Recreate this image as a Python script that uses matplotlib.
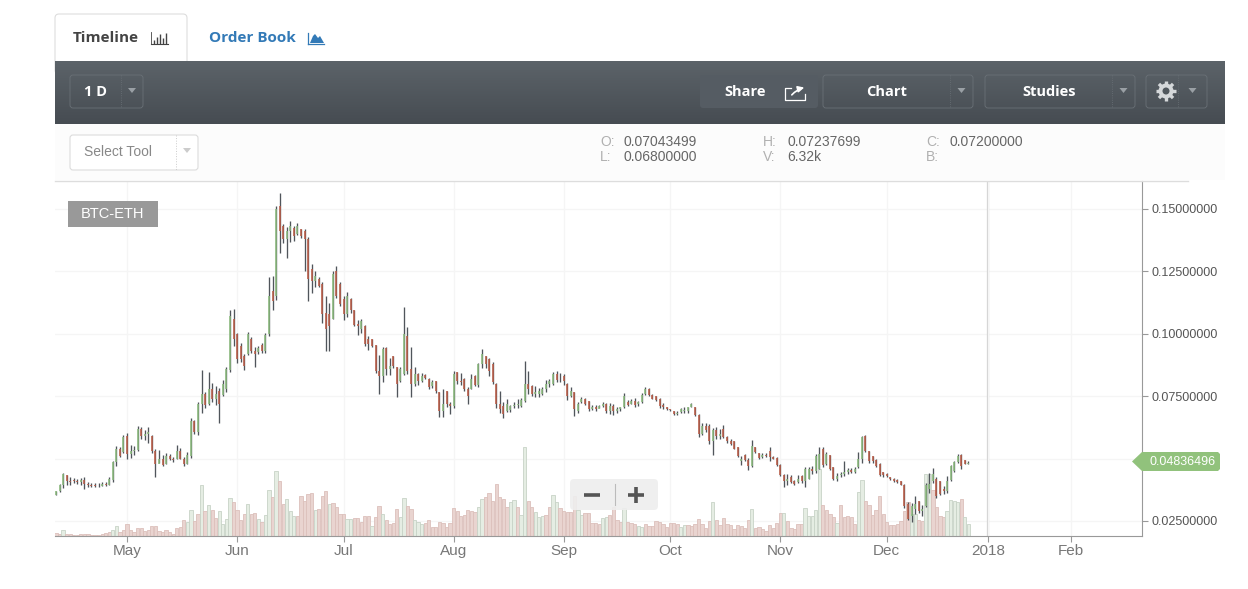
# Bittrex style BTC-ETH candlestick chart with the web page controls around it
import numpy as np
import matplotlib
matplotlib.use("Agg")
import matplotlib.pyplot as plt
from matplotlib.colors import LinearSegmentedColormap
from matplotlib.patches import Circle, FancyBboxPatch, Polygon, Rectangle

plt.rcParams['font.family'] = ['Liberation Sans', 'DejaVu Sans']

# prices are in 0.001 BTC, one entry per day starting 11 Apr 2017 (day 0)
HIGH = [37.2,39.8,44.4,43.3,42.5,42.1,41.7,42.1,42.5,40.8,
        40.4,40.4,40.1,40.8,40.8,42.5,49.2,55.1,54.5,59.5,
        60.4,55.5,55.1,63.1,62.8,61.4,62.5,59.3,53.9,53.5,
        51.5,52.4,51.9,50.5,55.5,54.4,50.5,52.8,66.1,65.5,
        72.8,85.6,76.8,84.8,80.2,79,78.2,81.5,86.8,109.5,
        109.8,100.2,96.2,91.9,100.9,98.6,94.8,95.2,96.2,100.2,
        122.6,123.1,151.2,156.3,143.8,142.9,145.3,143.2,144.2,142,
        141.8,138.9,127.8,125.3,122.6,120.9,115.1,112.5,125.3,127.3,
        120.9,115.1,116.6,114.5,109.5,105.5,105.8,103.5,99.1,98.1,
        95.7,91.5,94.8,94.8,90.1,91.2,86.8,86.8,110.6,102.8,
        94.8,86.8,84.1,84.4,83.9,82.1,81.5,81.2,76.8,77.7,
        77.2,72.8,85.2,84.8,84.1,82.1,78.8,83.9,83.5,88.4,
        94.1,91.1,90.1,88.8,80.4,77.2,72.8,73.7,71.4,72.8,
        73.7,74.1,89.2,85.2,79.5,79,78.1,78.8,81.5,81.7,
        84.8,85.2,84.4,83.9,80.1,78.8,76.8,72.8,74.8,74.1,
        73.2,71.4,71.4,71.4,72.8,72.4,72.4,71.9,70.8,70.8,
        76.1,73.5,73.7,74.1,73.2,76.1,78.5,78.1,75.9,75.1,
        74.1,72.2,70.8,70,69.2,69.2,70.1,70.5,70.8,72.4,
        70.8,67.9,64.1,64.1,63.9,62.1,62.5,61.7,63.5,59,
        57.7,57.2,54.8,51.1,51.9,50.1,57.5,54.5,52.4,52.4,
        52.4,54.5,51.1,50.5,47.9,43.8,43.8,43.4,41.4,43.4,
        43.4,46.5,46.5,47.1,51.9,54.8,54.5,52.8,51.5,46.8,
        44.1,44.8,49.2,46.1,46.1,46.5,52.8,59.1,59.5,53.2,
        51.1,49.7,48.1,44.8,44.4,42.8,42.1,41.7,41.2,39.8,
        32.5,32.4,35,33.2,31.4,40.1,44.1,46.1,42.5,41.2,
        39,43,47.5,49.2,51.9,51.9,49.5,49.2]

LOW = [35.4,36.8,38.1,39.4,39.4,40.1,39.8,39.5,37.8,38.8,
       38.8,38.8,38.8,39,39,39.4,40.8,47.1,50.5,52.1,
       49.7,50.1,51.5,53.1,57.7,57.5,56.4,52.4,42.5,48.1,
       47.1,47.9,49.5,48.8,49.7,49.7,47.1,47.9,50.4,59.9,
       59.5,68.1,70.1,71.5,72.8,71.5,64.1,75,76.8,84.8,
       95.1,88.4,88.8,85.5,91.5,92.2,86.6,91.9,92.2,92.4,
       99.3,109.5,113.5,132.5,136.2,130.2,136.9,137.3,139.6,138.2,
       125.3,113.3,116.2,118.9,118.6,104.5,93.2,93.2,105.8,114.2,
       111.1,105.5,106.9,108.5,103.3,99.5,100.4,95.1,93.5,94.8,
       84.1,75.9,80.8,83.5,83.5,86.1,74.5,80.8,83.5,83.9,
       74.5,79.1,79.5,80.8,81.7,77.7,78.1,76.4,66.5,66.5,
       70.8,67.8,70.1,79.9,79.5,77.2,71.8,77.7,79,78.8,
       86.1,86.1,83.1,79.9,70.1,68.1,66.1,68.8,68.8,70.1,
       70.1,70.5,72.8,75.9,75.1,74.5,74.5,75.5,76.8,78.8,
       79.5,80.8,80.8,79.5,73.5,74.8,67,68.1,72.1,71.4,
       69.2,69.4,69.2,70.1,70.5,68.1,67.8,67.4,68.4,69.2,
       70.1,71,71.9,70.5,71,72.4,75.5,75.1,73.7,73.2,
       70.1,69.7,69.5,69.2,67.3,67.3,68.1,68.1,68.4,70.5,
       67.1,58.8,59.5,60.8,55.9,51.5,57.7,57.7,58.1,56.4,
       55.5,53.7,50.5,47.5,49.2,45.5,46.8,52.1,49.7,50.1,
       50.5,49.2,49.7,47,43,38.5,39.4,40.1,39.4,40.1,
       40.4,38.5,41.7,43.8,44.1,45.7,46.8,47.5,45.5,41.4,
       41.2,42.8,43.1,43.8,44.1,44.4,46.1,48.1,52.8,48.1,
       48.4,46.5,43,42.8,42.5,41.4,40.8,40.4,39.4,30.1,
       25.2,24.4,27.8,28.4,27,30.8,36.4,40.4,34.1,35.4,
       35.8,36.4,41.2,44.8,48.1,45.7,47.9,47.9]

OPEN = [35.6,37,39.5,43.5,41,41.5,41,40.5,41.5,40,
        39.5,39.5,39.2,39,40,39.6,41.5,48.5,54,52.5,
        59,52,53,53.5,62,59,60,59,53,48,
        50,48,51,50,50,53,50,48,51,65,
        60.5,72,76,72,78,74,77,75.5,78,85.5,
        106,100,95,91,92,98,93,92.5,95.5,93,
        100,117,115,151,143,138,141,142.5,140,142,
        141,138,126,121,122,120,108.5,108,106,125,
        120,114,108,114,109.5,104,102,103,98,98,
        95.5,85,83,94.5,86,91,86.5,81,84,99,
        86,80,84,81,83.5,82,79,81,76.5,69,
        77,72,71,84.5,81,82,78,78,83,79.5,
        88,91,90,88,80,72,71,69,69.5,71,
        71.5,71,73,80,79,76,76,76,78,80,
        80,84,83,83,80,75,76.5,69,72.5,74,
        73,70,70.5,70,71,72,69,71,69,70,
        70.5,72.5,72,73,72,72.5,76,78,75.5,75,
        74,71.5,70.5,70,69,68,68.5,69,69,70.6,
        70.5,67.5,60,63,63,57,61.5,59,62,58.8,
        57,57,54.5,49,51.5,49.5,47,54.5,52.4,50.5,
        51.5,53,50.5,50.3,47.5,43.5,41,42.5,41,40.5,
        43,41,42,46,45,46,54,48,51.5,46.5,
        42,43.5,44,44.5,45.5,44.8,46.5,50,59,53,
        51,49.5,48,44.5,44,42.7,42,41.5,41,39.6,
        32,27,30,33,29,31,38,41,42,41,
        38,37,41.5,45,48.5,51.5,49.3,48]

CLOSE = [37,39.5,44,41,40.5,41,40.5,41.5,40,39.5,
         39.2,39.2,39,40,39.5,42,48.5,54,51,58.5,
         52,53,53.5,62,59,60,60.5,53,48,50,
         47.5,51,50,49.5,53,50,48,51.5,65,60.5,
         72,76,71.5,78,74,76,72,80,86,107,
         98,90,90,87,100,93,92,94.5,93,99.5,
         115,113,150,141,138,141,143,139,143,139,
         138,122,121,123,119,108,102,103,124,115,
         112,108,115,109.5,103.5,103,105,96,96,95,
         85,83,94,86,87,87,80,86,100,85,
         80,84,81,83,82.2,78.5,80.5,77,69,72,
         72,71,84,81,80.5,78,75,82,79.5,88,
         92,88,85,80.5,72,70,68,72,71,71.5,
         72,73.5,80,78,76,76.5,77,78,80,81,
         84,81.5,83,81,75,77,70,72,74,72,
         70,70.5,70,71,72,69,71,69,70,70.5,
         75,71.5,73,71.5,72.5,75.5,78,75.5,74,73.5,
         71,70.5,69.8,69.5,67.8,68.2,69.8,69.5,70.5,72,
         67.5,60,63,61.5,57,61.5,59,60,58.5,57,
         56,54,51,50,49.5,47,55,52.5,50.2,51.5,
         51,50.5,50,47.5,43.5,41,42,40.5,40,42,
         41,46,46,45,51,52,47.5,52,46,42,
         43,44,44.5,45.5,44.8,46,50,58.5,53,49,
         49,47,43.5,43.5,43,41.7,41,40.6,39.6,31,
         26,31,32,29,30,39.5,40,44,35,36,
         37,41,47,48.5,51,47,48,48.4]

# volume in chart units, the last bar is the V: 6.32k of the header
VOLUME = [9,7,17,7,5,3,3,7,7,5,
          3,3,3,7,9,12,19,29,13,19,
          37,17,13,25,25,15,19,29,29,15,
          11,17,13,7,25,27,47,41,77,45,
          65,153,75,92,79,55,75,35,52,115,
          101,79,49,67,97,65,69,52,42,62,
          139,117,195,165,97,112,75,59,59,119,
          105,127,130,77,82,119,134,97,99,87,
          67,65,52,52,53,53,43,60,60,30,
          56,90,65,48,36,38,80,56,113,90,
          80,48,43,36,40,48,28,28,43,40,
          26,40,83,76,60,63,78,76,73,86,
          111,116,128,106,155,118,111,86,103,108,
          86,63,268,106,86,73,58,60,63,86,
          123,103,83,76,73,73,120,78,63,68,
          68,38,38,36,53,56,63,88,48,43,
          83,43,40,36,30,26,36,30,30,46,
          43,36,28,39,38,37,28,33,33,30,
          35,52,37,25,45,101,47,32,55,35,
          32,22,32,29,25,47,82,25,27,22,
          15,32,25,39,69,69,45,25,22,35,
          35,85,59,59,77,202,94,79,67,57,
          39,94,57,59,57,35,132,169,105,92,
          62,79,119,67,42,32,32,35,45,74,
          102,67,67,49,45,187,187,137,87,59,
          57,75,109,104,102,112,57,37]

# the days whose volume bar is the pale green kind, the rest are pale red
VOLUME_GREEN_DAYS = [2, 16, 17, 37, 38, 41, 43, 46, 47, 48, 49, 54, 57, 59, 60, 62, 65, 66, 67,
                     73, 77, 82, 83, 89, 92, 97, 98, 101, 102, 103, 119, 120, 128, 129, 131, 132,
                     135, 136, 137, 140, 141, 147, 148, 154, 155, 160, 164, 165, 176, 177, 185, 196,
                     205, 211, 212, 213, 214, 215, 220, 226, 227, 241, 242, 245, 246, 251, 252, 253,
                     254, 256, 257]

MONTH_LABELS = ['May', 'Jun', 'Jul', 'Aug', 'Sep', 'Oct', 'Nov', 'Dec', '2018', 'Feb']
MONTH_DAYS = [20, 51, 81, 112, 143, 173, 204, 234, 262.5, 285.9]
PRICE_TICKS = [0.025, 0.05, 0.075, 0.10, 0.125, 0.15]
PRICE_LABELED = [0.025, 0.075, 0.10, 0.125, 0.15]
LAST_PRICE = 0.04836496

W, H = 1248, 589
PRICE_MIN, PRICE_MAX = 0.01899, 0.1612
VOL_MAX = 1065
fig = plt.figure(figsize=(W / 100, H / 100), dpi=100, facecolor='white')


def box(left, top, right, bottom):
    return [left / W, 1 - bottom / H, (right - left) / W, (bottom - top) / H]


high = np.array(HIGH) / 1000
low = np.array(LOW) / 1000
opn = np.array(OPEN) / 1000
close = np.array(CLOSE) / 1000
days = np.arange(len(high))
up = close >= opn
vol_green = np.isin(days, VOLUME_GREEN_DAYS)

# volume underneath, price on the twin axes on top
ax_vol = fig.add_axes(box(55, 181, 1142, 536))
ax_vol.bar(days, VOLUME, width=0.92, color=np.where(vol_green, '#e5ede3', '#e9d4d0'),
           edgecolor=np.where(vol_green, '#c8d3c7', '#dcc0bb'), linewidth=0.6, zorder=2)
ax_vol.set_ylim(0, VOL_MAX)
ax_vol.set_xlim(-0.28, 305.9)
ax_vol.set_yticks([])
ax_vol.set_xticks(MONTH_DAYS)
ax_vol.set_xticklabels(MONTH_LABELS, fontsize=11, color='#777777')
ax_vol.tick_params(axis='x', length=4, width=0.8, color='#999999', pad=2)
ax_vol.grid(axis='x', color='#f5f5f5', linewidth=1, zorder=0)
ax_vol.axvline(262.5, color='#cfcfcf', linewidth=1.6, zorder=1)
# price gridlines go on this axes too, so they stay behind the bars
for p in PRICE_TICKS:
    ax_vol.axhline((p - PRICE_MIN) / (PRICE_MAX - PRICE_MIN) * VOL_MAX, color='#f5f5f5', linewidth=1, zorder=0)
for side in ['top', 'left', 'right']:
    ax_vol.spines[side].set_visible(False)
ax_vol.spines['bottom'].set_color('#999999')

ax = ax_vol.twinx()
ax.patch.set_visible(False)
ax.set_ylim(PRICE_MIN, PRICE_MAX)
ax.vlines(days, low, high, color='#50555b', linewidth=0.95, zorder=3)
ax.vlines(days[up], opn[up], close[up], color='#8cbb7e', linewidth=1.15, zorder=4)
ax.vlines(days[~up], opn[~up], close[~up], color='#bb5c47', linewidth=1.15, zorder=4)
ax.set_yticks(PRICE_LABELED)
ax.set_yticklabels(['%.8f' % p for p in PRICE_LABELED], fontsize=9, color='#555555')
ax.tick_params(axis='y', length=4, width=0.8, color='#999999', pad=3)
for side in ['top', 'left', 'bottom']:
    ax.spines[side].set_visible(False)
ax.spines['right'].set_color('#999999')

# page controls, drawn in pixel coordinates
ui = fig.add_axes([0, 0, 1, 1], zorder=5)
ui.patch.set_visible(False)
ui.axis('off')

# tab first so the dark bar covers its lower edge
ui.add_patch(FancyBboxPatch((55, 14), 132, 60, boxstyle='round,pad=0,rounding_size=4',
                            facecolor='white', edgecolor='#dddddd', linewidth=0.8, zorder=0.5))
grad = np.linspace(0, 1, 64).reshape(-1, 1)
ui.imshow(grad, extent=(55, 1225, 124, 61), aspect='auto', vmin=0, vmax=1, zorder=0.6,
          cmap=LinearSegmentedColormap.from_list('hdr', ['#5c6369', '#464c52']))
ui.set_xlim(0, W)
ui.set_ylim(H, 0)
ui.add_patch(Rectangle((55, 124), 1170, 56, facecolor='#fcfcfc', edgecolor='none'))
ui.plot([55, 1188], [181, 181], color='#dddddd', linewidth=1)


def rbox(x0, y0, x1, y1, fc='none', ec='#6a7177', r=3, alpha=None, lw=0.6):
    ui.add_patch(FancyBboxPatch((x0, y0), x1 - x0, y1 - y0, boxstyle='round,pad=0,rounding_size=%g' % r,
                                facecolor=fc, edgecolor=ec, linewidth=lw, alpha=alpha))


def caret(x, y, color='#9aa0a5'):
    ui.add_patch(Polygon([(x - 4, y - 2), (x + 4, y - 2), (x, y + 3)], facecolor=color, edgecolor='none'))


def dropdown(x0, x1, xdiv, label, xlabel):
    rbox(x0, 75, x1, 108)
    ui.plot([xdiv, xdiv], [75, 108], color='#6a7177', linewidth=0.6, linestyle=':')
    caret((xdiv + x1) / 2, 90)
    if label:
        ui.text(xlabel, 92, label, color='white', fontsize=10.5, ha='center', va='center',
                fontweight='bold', family='Open Sans')


# tabs
ui.text(73, 38, 'Timeline', color='#444444', fontsize=11, fontweight='bold', family='Open Sans', va='center')
ui.text(209, 38, 'Order Book', color='#337ab7', fontsize=11, fontweight='bold', family='Open Sans', va='center')
ui.plot([151, 168], [44, 44], color='#444444', linewidth=0.8)
ui.plot([151, 151], [32, 44], color='#444444', linewidth=0.6)
ui.vlines([154, 157, 160, 163, 166], [40, 37, 34, 38, 33], [44, 44, 44, 44, 44], color='#444444', linewidth=1)
ui.plot([308, 324], [44, 44], color='#337ab7', linewidth=0.9)
ui.plot([308, 308], [33, 44], color='#337ab7', linewidth=0.9)
ui.add_patch(Polygon([(310, 43), (313, 36), (315, 34), (318, 38), (320, 36), (324, 43)],
                     facecolor='#337ab7', edgecolor='none'))

# dark toolbar
dropdown(70, 143, 121, '1 D', 95)
rbox(700, 75, 818, 108, fc='#555c63', ec='none')
ui.text(745, 92, 'Share', color='white', fontsize=10.5, ha='center', va='center', fontweight='bold', family='Open Sans')
ui.plot([791, 785, 785, 805, 805], [88, 88, 100, 100, 94], color='white', linewidth=0.9)
ui.annotate('', xy=(807, 87), xytext=(790, 97),
            arrowprops=dict(arrowstyle='-|>', color='white', linewidth=1.2, mutation_scale=9,
                            connectionstyle='arc3,rad=-0.2'))
dropdown(823, 973, 950, 'Chart', 887)
dropdown(985, 1135, 1112, 'Studies', 1049)
dropdown(1146, 1207, 1178, '', 0)
# gear: eight teeth, ring and hole
for a in np.arange(8) * np.pi / 4:
    ui.plot([1166 + 6 * np.cos(a), 1166 + 10 * np.cos(a)], [91 + 6 * np.sin(a), 91 + 10 * np.sin(a)],
            color='#d5d8da', linewidth=2.4, solid_capstyle='butt')
ui.add_patch(Circle((1166, 91), 7.5, facecolor='#d5d8da', edgecolor='none'))
ui.add_patch(Circle((1166, 91), 3.5, facecolor='#50575d', edgecolor='none'))

# tool selector and OHLC readout
rbox(70, 135, 198, 170, fc='white', ec='#dcdcdc', lw=0.8)
ui.plot([176, 176], [135, 170], color='#cccccc', linewidth=0.7, linestyle=':')
caret(187, 150, '#cccccc')
ui.text(84, 152, 'Select Tool', color='#888888', fontsize=10, va='center')
for x, y, name, value in [(600, 142, 'O:', '0.07043499'), (600, 157, 'L:', '0.06800000'),
                          (763, 142, 'H:', '0.07237699'), (763, 157, 'V:', '6.32k'),
                          (926, 142, 'C:', '0.07200000'), (926, 157, 'B:', '')]:
    ui.text(x, y, name, color='#b0b0b0', fontsize=10, va='center')
    ui.text(x + 24, y, value, color='#666666', fontsize=10, va='center')

# overlays on the plot
ui.add_patch(Rectangle((68, 201), 90, 26, facecolor='#999999', edgecolor='none'))
ui.text(113, 214.5, 'BTC-ETH', color='white', fontsize=10.5, ha='center', va='center')
ui.add_patch(Polygon([(1132, 461.5), (1142, 452), (1218, 452), (1220, 454), (1220, 469), (1218, 471), (1142, 471)],
                     facecolor='#91c27c', edgecolor='none'))
ui.text(1150, 462, '%.8f' % LAST_PRICE, color='white', fontsize=9, va='center')
rbox(570, 479, 658, 510, fc='#eeeeee', ec='none', r=4, alpha=0.9)
ui.plot([615, 615], [484, 505], color='#bbbbbb', linewidth=0.8)
ui.plot([584, 600], [495, 495], color='#555555', linewidth=2.6, solid_capstyle='butt')
ui.plot([628, 644], [495, 495], color='#555555', linewidth=2.6, solid_capstyle='butt')
ui.plot([636, 636], [487, 503], color='#555555', linewidth=2.6, solid_capstyle='butt')

fig.savefig('out.png', dpi=100)
